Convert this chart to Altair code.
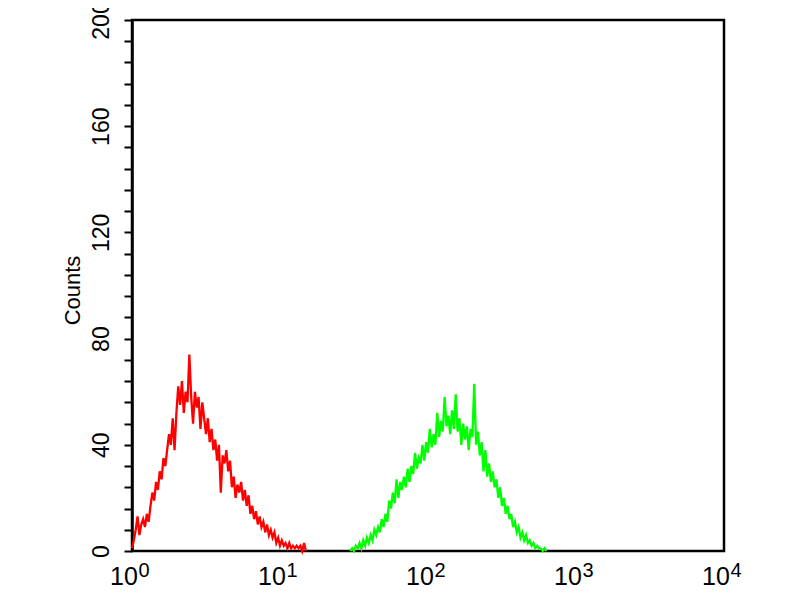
import altair as alt
import pandas as pd

# Flow-cytometry style histogram: 80 channels per decade on a 4-decade log axis
CHANNELS_PER_DECADE = 80

red_start_channel = 0
red_counts = [
    1, 4, 8, 13, 6, 10, 12, 9, 14, 11,
    17, 22, 19, 26, 23, 30, 27, 35, 32, 38,
    44, 40, 50, 38, 52, 62, 55, 64, 52, 60,
    56, 74, 58, 48, 60, 54, 58, 46, 56, 50,
    44, 50, 41, 46, 38, 42, 34, 40, 22, 36,
    33, 38, 30, 34, 24, 28, 20, 25, 22, 26,
    19, 23, 17, 21, 14, 17, 12, 15, 10, 13,
    9, 11, 7, 10, 6, 8, 5, 7, 3, 5,
    2, 4, 2, 3, 1, 3, 1, 2, 1, 2,
    1, 2, 0, 3, 0,
]

green_start_channel = 118
green_counts = [
    0, 1, 0, 2, 1, 3, 1, 4, 2, 5,
    3, 6, 4, 8, 6, 9, 7, 12, 9, 14,
    11, 19, 16, 22, 18, 27, 20, 26, 23, 28,
    24, 31, 26, 32, 29, 37, 31, 35, 33, 40,
    34, 41, 37, 46, 39, 44, 40, 52, 43, 49,
    45, 58, 47, 51, 44, 53, 46, 59, 45, 50,
    40, 48, 42, 47, 38, 46, 43, 63, 40, 45,
    36, 41, 30, 38, 28, 33, 26, 30, 24, 27,
    20, 24, 17, 20, 14, 17, 12, 14, 9, 11,
    7, 9, 5, 7, 4, 6, 3, 4, 2, 3,
    1, 2, 1, 1, 0, 1, 0,
]

series_names = ["red", "green"]
series_colors = ["#ff0000", "#00ff00"]

y_major_ticks = [0, 40, 80, 120, 160, 200]
x_decades = [0, 1, 2, 3, 4]
x_label_base = "10"

rows = []
for name, start, counts in [("red", red_start_channel, red_counts),
                            ("green", green_start_channel, green_counts)]:
    for i, c in enumerate(counts):
        rows.append({"series": name,
                     "intensity": 10 ** ((start + i) / CHANNELS_PER_DECADE),
                     "count": c,
                     "order": i})
df = pd.DataFrame(rows)

lab_df = pd.DataFrame({"pos": [10 ** d for d in x_decades],
                       "base": [x_label_base] * len(x_decades),
                       "exp": [str(d) for d in x_decades]})

W, H = 592, 531
FONT = "Liberation Sans"

x_scale = alt.Scale(type="log", domain=[1, 10000], nice=False)
y_scale = alt.Scale(domain=[0, 200], nice=False, zero=True)

x_tick_values = [m * 10 ** d for d in range(4) for m in range(1, 10)] + [10000]
y_tick_values = list(range(0, 201, 8))

lines = alt.Chart(df).mark_line(strokeWidth=2.3, strokeJoin="miter").encode(
    x=alt.X("intensity:Q", scale=x_scale,
            axis=alt.Axis(values=x_tick_values, labels=False, title=None,
                          tickSize=7, tickWidth=2, tickColor="black",
                          domainWidth=2.5, domainColor="black", grid=False)),
    y=alt.Y("count:Q", scale=y_scale,
            axis=alt.Axis(values=y_tick_values,
                          labelExpr="datum.value % 40 == 0 ? datum.label : ''",
                          labelOverlap=False, labelFlush=False,
                          labelAngle=270, labelAlign="center", labelBaseline="middle",
                          labelPadding=23, labelFontSize=23, labelFont=FONT,
                          labelColor="black",
                          tickSize=8, tickWidth=2, tickColor="black",
                          domainWidth=2.5, domainColor="black", grid=False,
                          title="Counts", titleFont=FONT, titleFontSize=22,
                          titleFontWeight="normal", titleColor="black",
                          titleAngle=270, titleAlign="center", titleBaseline="middle",
                          titleX=-60, titleY=270)),
    color=alt.Color("series:N", scale=alt.Scale(domain=series_names, range=series_colors),
                    legend=None),
    order="order:Q",
)

base_text = alt.Chart(lab_df).mark_text(
    fontSize=25, font=FONT, align="center", baseline="alphabetic", dx=-8, color="black"
).encode(
    x=alt.X("pos:Q", scale=x_scale, axis=None),
    y=alt.value(H + 34),
    text="base:N",
)

exp_text = alt.Chart(lab_df).mark_text(
    fontSize=20, font=FONT, align="center", baseline="alphabetic", dx=12, color="black"
).encode(
    x=alt.X("pos:Q", scale=x_scale, axis=None),
    y=alt.value(H + 26),
    text="exp:N",
)

chart = alt.layer(lines, base_text, exp_text).properties(
    width=W, height=H,
    padding={"left": 124, "top": 12, "right": 60, "bottom": 40},
    autosize=alt.AutoSizeParams(type="none"),
    background="white",
).configure_view(stroke="black", strokeWidth=2.5)

chart.save("out.html", embed_options={"renderer": "svg", "actions": False})
